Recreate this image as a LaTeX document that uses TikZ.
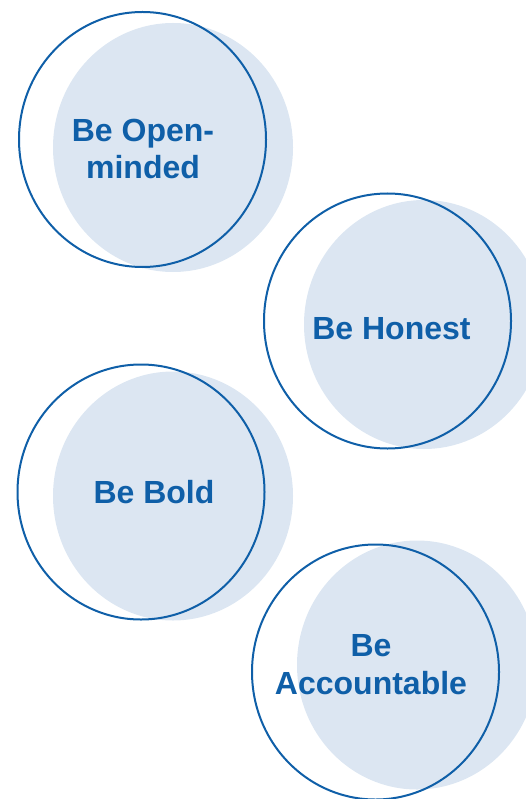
\documentclass[tikz,border=0pt]{standalone}
\usepackage{fontspec}
\setmainfont{Liberation Sans}
\definecolor{ringblue}{HTML}{0F5FA8}
\definecolor{discblue}{HTML}{DCE6F2}
\tikzset{
  ring/.style={draw=ringblue, line width=2pt},
  disc/.style={fill=discblue},
  value/.style={text=ringblue, align=center, inner sep=0pt,
    font=\fontsize{32}{37.5}\selectfont\bfseries}
}
\begin{document}
\begin{tikzpicture}[x=1pt, y=-1pt]
\useasboundingbox (0,0) rectangle (526,799);
%Vòng nền nhạt
\fill[disc] (173,147.5) ellipse [x radius=120, y radius=124.5];
\fill[disc] (424,324.5) ellipse [x radius=120, y radius=124.5];
\fill[disc] (173,496) ellipse [x radius=120, y radius=124.5];
\fill[disc] (417,665) ellipse [x radius=120, y radius=124.5];
%Vòng viền
\draw[ring] (142.5,139.5) ellipse [x radius=123.5, y radius=127.5];
\draw[ring] (387.5,321) ellipse [x radius=123.5, y radius=127.5];
\draw[ring] (141,492) ellipse [x radius=123.5, y radius=127.5];
\draw[ring] (375.5,672) ellipse [x radius=123.5, y radius=127.5];
%Chữ
\node[value] (open) at (143,149) {Be Open-\\minded};
\node[value] (honest) at (391.5,328.5) {Be Honest};
\node[value] (bold) at (154,492.5) {Be Bold};
\node[value] (account) at (371,664.5) {Be\\Accountable};
\end{tikzpicture}
\end{document}
